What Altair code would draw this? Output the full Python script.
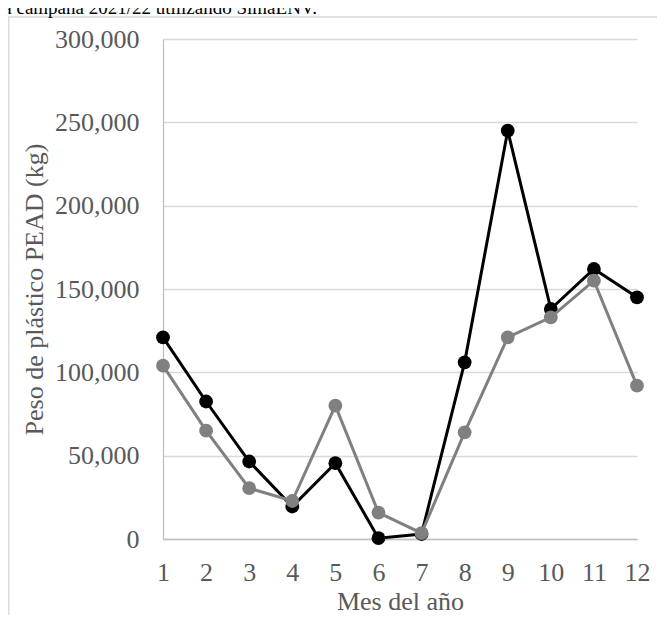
import altair as alt
import pandas as pd

months = [1, 2, 3, 4, 5, 6, 7, 8, 9, 10, 11, 12]
serie_negra = [121000, 82500, 46500, 19500, 45500, 500, 3000, 106000, 245000, 138000, 162000, 145000]
serie_gris = [104000, 65000, 30500, 22800, 80000, 15800, 3500, 64000, 121000, 133000, 155000, 92000]
y_ticks = [0, 50000, 100000, 150000, 200000, 250000, 300000]
header = "la campaña 2021/22 utilizando SimaENV."

FONT = "Liberation Serif"
W, H = 474, 500
PL, PT, PR, PB = 155, 31, 20, 76

df_b = pd.DataFrame({"mes": months, "peso": serie_negra})
df_g = pd.DataFrame({"mes": months, "peso": serie_gris})
one = pd.DataFrame({"a": [0]})

x_enc = alt.X("mes:Q", scale=alt.Scale(domain=[1, 12], nice=False, zero=False),
              axis=alt.Axis(values=months, title="Mes del año", grid=False, ticks=False,
                            tickSize=0, labelPadding=41, labelBaseline="alphabetic",
                            titleY=70, titleBaseline="alphabetic", labelFlush=False,
                            format="d"))
y_enc = alt.Y("peso:Q", scale=alt.Scale(domain=[0, 300000], nice=False),
              axis=alt.Axis(values=y_ticks, title="Peso de plástico PEAD (kg)", grid=True,
                            ticks=False, tickSize=0, labelPadding=24, format=",.0f",
                            titleX=-121, titleAngle=-90, titleBaseline="alphabetic",
                            titleAlign="center", labelFlush=False))

def series(df, color):
    line = alt.Chart(df).mark_line(color=color, strokeWidth=3).encode(x=x_enc, y=y_enc)
    pts = alt.Chart(df).mark_circle(color=color, size=190, opacity=1).encode(x=x_enc, y=y_enc)
    return [line, pts]

frame_left = alt.Chart(one).mark_rule(color="#d9d9d9", strokeWidth=1.3).encode(
    x=alt.value(-PL + 0.8), y=alt.value(9 - PT), y2=alt.value(H + PB + 10))
frame_top = alt.Chart(one).mark_rule(color="#d9d9d9", strokeWidth=1.3).encode(
    x=alt.value(-PL), x2=alt.value(W + PR + 10), y=alt.value(9 - PT))
head = alt.Chart(one).mark_text(text=header, font=FONT, fontSize=19, color="#000000",
                                align="left", baseline="alphabetic").encode(
    x=alt.value(-PL - 10), y=alt.value(6 - PT))

chart = alt.layer(frame_left, frame_top, head,
                  *series(df_b, "#000000"), *series(df_g, "#808080")).properties(
    width=W, height=H,
    autosize=alt.AutoSizeParams(type="none"),
    padding={"left": PL, "top": PT, "right": PR, "bottom": PB},
).configure_view(stroke=None).configure_axis(
    labelFont=FONT, titleFont=FONT, labelFontSize=26, titleFontSize=26,
    labelColor="#595959", titleColor="#595959", titleFontWeight="normal",
    gridColor="#d9d9d9", gridWidth=1.3, domainColor="#bfbfbf", domainWidth=1.3,
)

chart.save("out.html", embed_options={"renderer": "svg", "actions": False})
